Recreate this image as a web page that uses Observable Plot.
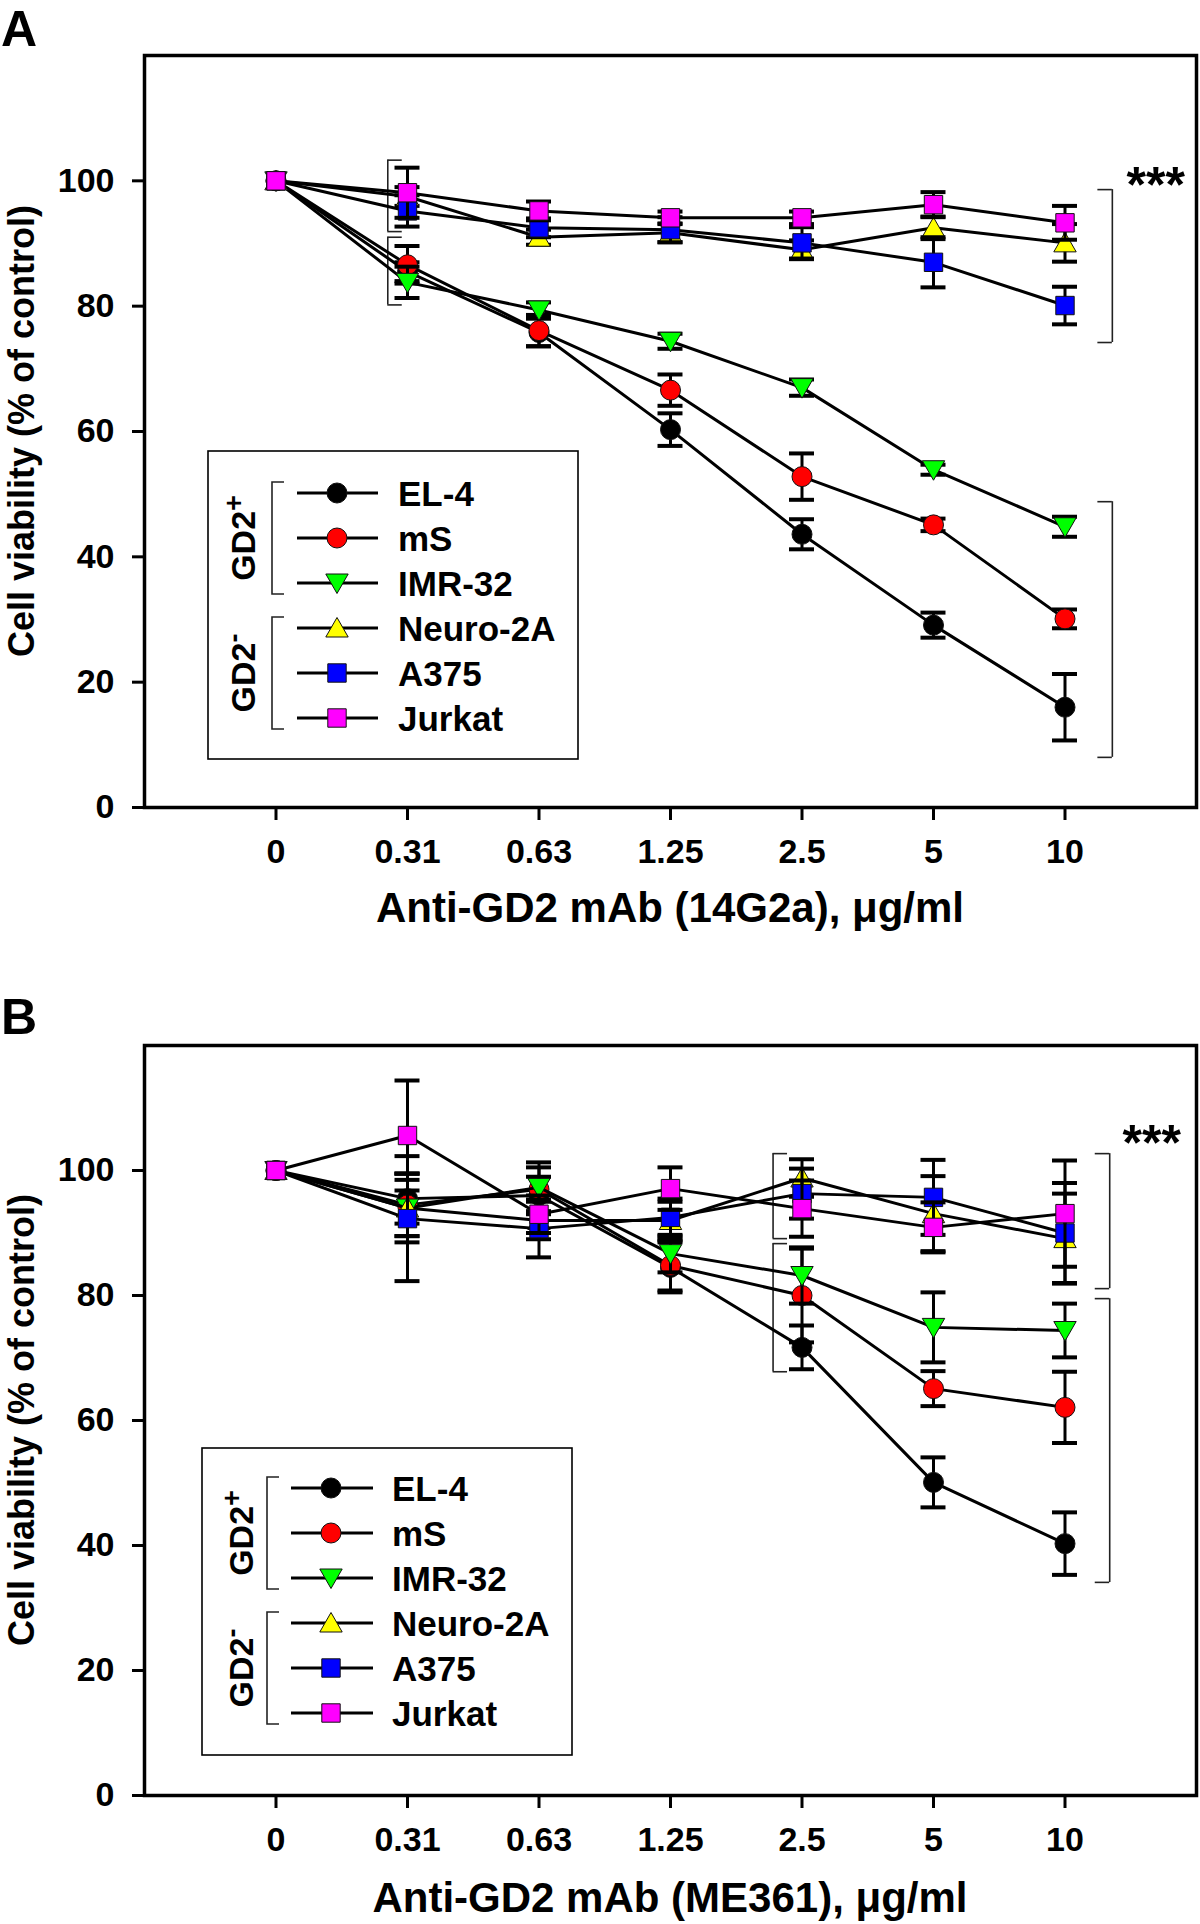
<!DOCTYPE html>
<html><head><meta charset="utf-8">
<script src="https://cdn.jsdelivr.net/npm/d3@7"></script>
<script src="https://cdn.jsdelivr.net/npm/@observablehq/plot@0.6"></script>
<style>
body{margin:0;background:#fff;}
#wrap{position:relative;width:1200px;height:1924px;background:#fff;}
.panel{position:absolute;left:0;width:1200px;}
</style></head><body><div id="wrap"><div id="pa" class="panel" style="top:0"></div><div id="pb" class="panel" style="top:962px"></div></div>
<script>
// ---------- data ----------
const doses = ["0","0.31","0.63","1.25","2.5","5","10"];
const cellLines = ["EL-4","mS","IMR-32","Neuro-2A","A375","Jurkat"];
const colors = ["#000000","#ff0000","#00ff00","#ffff00","#0000ff","#ff00ff"];
const groups = [{label:"GD2", sup:"+", from:0, to:2},{label:"GD2", sup:"-", from:3, to:5}];

// Panel A (14G2a): mean and error, per cell line
const meanA_EL4    = [100, 85.5, 75.8, 60.3, 43.6, 29.1, 16.0];
const errA_EL4     = [0, 1.5, 2.2, 2.6, 2.4, 2.0, 5.3];
const meanA_mS     = [100, 86.6, 76.1, 66.6, 52.8, 45.1, 30.1];
const errA_mS      = [0, 3.0, 2.5, 2.5, 3.7, 1.0, 1.5];
const meanA_IMR32  = [100, 83.8, 79.4, 74.4, 67.0, 53.9, 44.8];
const errA_IMR32   = [0, 2.5, 1.2, 1.2, 1.3, 0.8, 1.6];
const meanA_Neuro  = [100, 97.5, 91.0, 91.7, 89.0, 92.5, 90.1];
const errA_Neuro   = [0, 1.5, 1.2, 1.5, 1.5, 1.8, 3.0];
const meanA_A375   = [100, 95.2, 92.5, 92.2, 90.1, 87.0, 80.1];
const errA_A375    = [0, 2.5, 1.5, 2.0, 2.5, 4.0, 3.0];
const meanA_Jurkat = [100, 98.1, 95.2, 94.1, 94.1, 96.2, 93.3];
const errA_Jurkat  = [0, 4.0, 1.5, 1.0, 1.0, 2.0, 2.7];

// Panel B (ME361)
const meanB_EL4    = [100, 95.5, 96.0, 84.5, 71.7, 50.1, 40.3];
const errB_EL4     = [0, 4.0, 3.0, 4.0, 3.5, 4.0, 5.0];
const meanB_mS     = [100, 94.5, 97.0, 84.8, 80.0, 65.1, 62.1];
const errB_mS      = [0, 5.0, 3.5, 4.0, 7.5, 2.8, 5.7];
const meanB_IMR32  = [100, 94.0, 97.3, 86.7, 83.2, 74.9, 74.4];
const errB_IMR32   = [0, 5.5, 4.0, 3.0, 4.5, 5.6, 4.3];
const meanB_Neuro  = [100, 94.0, 92.0, 92.0, 98.8, 93.1, 89.1];
const errB_Neuro   = [0, 4.5, 3.0, 3.0, 3.0, 6.0, 7.2];
const meanB_A375   = [100, 92.3, 90.7, 92.5, 96.3, 95.7, 90.0];
const errB_A375    = [0, 10.0, 4.6, 3.0, 4.0, 6.0, 8.0];
const meanB_Jurkat = [100, 105.6, 93.0, 97.1, 93.9, 90.9, 93.1];
const errB_Jurkat  = [0, 8.8, 3.0, 3.4, 4.5, 4.0, 8.5];

const yTicks = [0, 20, 40, 60, 80, 100];

// significance brackets: x (dose index position), y range, side the ticks open to
const bracketsA = [
  {x: 0.85, y1: 91.9, y2: 103.3, open: 1},
  {x: 0.85, y1: 80.2, y2: 91.0, open: 1},
  {x: 6.36, y1: 74.2, y2: 98.6, open: -1},
  {x: 6.36, y1: 8.0, y2: 48.8, open: -1}
];
const bracketsB = [
  {x: 3.78, y1: 89.1, y2: 102.7, open: 1},
  {x: 3.78, y1: 67.8, y2: 88.3, open: 1},
  {x: 6.34, y1: 81.1, y2: 102.7, open: -1},
  {x: 6.34, y1: 34.1, y2: 79.5, open: -1}
];
const starsA = [{x: 6.69, y: 99.2, t: "***"}];
const starsB = [{x: 6.66, y: 104.3, t: "***"}];

// ---------- symbols ----------
const symCircle = {draw(c, s){const r=Math.sqrt(s/Math.PI); c.moveTo(r,0); c.arc(0,0,r,0,2*Math.PI);}};
const symSquare = {draw(c, s){const r=Math.sqrt(s/Math.PI)*0.92; c.rect(-r,-r,2*r,2*r);}};
const symTriUp = {draw(c, s){const r=Math.sqrt(s/Math.PI); c.moveTo(0,-1.05*r); c.lineTo(1.12*r,0.9*r); c.lineTo(-1.12*r,0.9*r); c.closePath();}};
const symTriDown = {draw(c, s){const r=Math.sqrt(s/Math.PI); c.moveTo(0,1.05*r); c.lineTo(1.12*r,-0.9*r); c.lineTo(-1.12*r,-0.9*r); c.closePath();}};
const symbols = [symCircle, symCircle, symTriDown, symTriUp, symSquare, symSquare];

const FONT = "'Liberation Sans', Arial, sans-serif";

function makePanel(el, o) {
  const marks = [];
  const capHalf = 0.095;
  // brackets
  marks.push(Plot.ruleX(o.brackets, {x: "x", y1: "y1", y2: "y2", stroke: "#222", strokeWidth: 1.6}));
  marks.push(Plot.ruleY(o.brackets, {y: "y1", x1: "x", x2: d => d.x + d.open * 0.11, stroke: "#222", strokeWidth: 1.6}));
  marks.push(Plot.ruleY(o.brackets, {y: "y2", x1: "x", x2: d => d.x + d.open * 0.11, stroke: "#222", strokeWidth: 1.6}));
  o.series.forEach((s, k) => {
    const pts = doses.map((d, i) => ({x: i, y: s.mean[i], e: s.err[i]}));
    const eb = pts.filter(d => d.e > 0);
    marks.push(Plot.line(pts, {x: "x", y: "y", stroke: "#000", strokeWidth: 3}));
    marks.push(Plot.ruleX(eb, {x: "x", y1: d => d.y - d.e, y2: d => d.y + d.e, stroke: "#000", strokeWidth: 3}));
    marks.push(Plot.ruleY(eb, {y: d => d.y + d.e, x1: d => d.x - capHalf, x2: d => d.x + capHalf, stroke: "#000", strokeWidth: 4}));
    marks.push(Plot.ruleY(eb, {y: d => d.y - d.e, x1: d => d.x - capHalf, x2: d => d.x + capHalf, stroke: "#000", strokeWidth: 4}));
    marks.push(Plot.dot(pts, {x: "x", y: "y", r: 10, symbol: symbols[k], fill: colors[k], stroke: "#111", strokeWidth: 1}));
  });
  marks.push(Plot.text(o.stars, {x: "x", y: "y", text: "t", fontSize: 50, fontWeight: "bold", lineAnchor: "middle"}));
  marks.push(Plot.frame({stroke: "#000", strokeWidth: 3.5}));
  marks.push(Plot.axisY({ticks: yTicks, tickSize: 12, tickPadding: 18, strokeWidth: 3, label: null}));
  marks.push(Plot.axisX({ticks: d3.range(doses.length), tickFormat: i => doses[i], tickSize: 13, tickPadding: 18, strokeWidth: 3, label: null}));

  const chart = Plot.plot({
    width: 1200, height: 962,
    marginLeft: 144, marginRight: 4, marginTop: o.marginTop, marginBottom: o.marginBottom,
    x: {domain: [-1, 7], axis: null},
    y: {domain: [0, 120], axis: null},
    style: {fontFamily: FONT, fontSize: "34px", fontWeight: "bold", color: "#000", background: "#fff"},
    marks
  });
  el.appendChild(chart);
  const svg = d3.select(chart.tagName === "svg" ? chart : chart.querySelector("svg"));
  const xs = chart.scale("x"), ys = chart.scale("y");
  const cx = (xs.apply(-1) + xs.apply(7)) / 2;
  const cy = (ys.apply(0) + ys.apply(120)) / 2;
  // panel letter
  svg.append("text").attr("x", 1).attr("y", o.letterY).attr("text-anchor", "start").attr("font-size", 50).attr("font-weight", "bold").attr("font-family", FONT).text(o.letter);
  // axis titles
  svg.append("text").attr("x", cx).attr("y", o.xTitleY).attr("text-anchor", "middle").attr("font-size", 42).attr("font-weight", "bold").attr("font-family", FONT).text(o.xTitle);
  svg.append("text").attr("transform", `translate(21,${cy}) rotate(-90)`).attr("dy", "0.36em").attr("text-anchor", "middle").attr("font-size", 36).attr("font-weight", "bold").attr("font-family", FONT).text("Cell viability (% of control)");
  // legend
  const L = o.legend;
  const g = svg.append("g").attr("font-family", FONT).attr("font-weight", "bold");
  g.append("rect").attr("x", L.x).attr("y", L.y).attr("width", L.w).attr("height", L.h).attr("fill", "#fff").attr("stroke", "#000").attr("stroke-width", 1.6);
  cellLines.forEach((name, k) => {
    const ry = L.row0 + k * L.step;
    g.append("line").attr("x1", L.lx1).attr("x2", L.lx2).attr("y1", ry).attr("y2", ry).attr("stroke", "#000").attr("stroke-width", 3);
    g.append("path").attr("d", d3.symbol(symbols[k], Math.PI * 100)()).attr("transform", `translate(${L.sx},${ry})`).attr("fill", colors[k]).attr("stroke", "#111").attr("stroke-width", 1);
    g.append("text").attr("x", L.tx).attr("y", ry).attr("dy", "0.36em").attr("text-anchor", "start").attr("font-size", 35).text(name);
  });
  groups.forEach(gr => {
    const y1 = L.row0 + gr.from * L.step - 11, y2 = L.row0 + gr.to * L.step + 11;
    g.append("path").attr("d", `M${L.bx + 12},${y1}H${L.bx}V${y2}H${L.bx + 12}`).attr("fill", "none").attr("stroke", "#222").attr("stroke-width", 1.6);
    const t = g.append("text").attr("transform", `translate(${L.gx},${(y1 + y2) / 2}) rotate(-90)`).attr("dy", "0.36em").attr("text-anchor", "middle").attr("font-size", 34);
    t.append("tspan").text(gr.label);
    t.append("tspan").attr("dy", "-0.45em").attr("font-size", 27).text(gr.sup);
  });
}

makePanel(document.getElementById("pa"), {
  series: [
    {mean: meanA_EL4, err: errA_EL4}, {mean: meanA_mS, err: errA_mS}, {mean: meanA_IMR32, err: errA_IMR32},
    {mean: meanA_Neuro, err: errA_Neuro}, {mean: meanA_A375, err: errA_A375}, {mean: meanA_Jurkat, err: errA_Jurkat}
  ],
  brackets: bracketsA, stars: starsA,
  marginTop: 55, marginBottom: 155,
  letter: "A", letterY: 46,
  xTitle: "Anti-GD2 mAb (14G2a), μg/ml", xTitleY: 922,
  legend: {x: 208, y: 451, w: 370, h: 308, row0: 493, step: 45, lx1: 297, lx2: 378, sx: 337, tx: 398, bx: 272, gx: 243}
});
makePanel(document.getElementById("pb"), {
  series: [
    {mean: meanB_EL4, err: errB_EL4}, {mean: meanB_mS, err: errB_mS}, {mean: meanB_IMR32, err: errB_IMR32},
    {mean: meanB_Neuro, err: errB_Neuro}, {mean: meanB_A375, err: errB_A375}, {mean: meanB_Jurkat, err: errB_Jurkat}
  ],
  brackets: bracketsB, stars: starsB,
  marginTop: 83, marginBottom: 129,
  letter: "B", letterY: 72,
  xTitle: "Anti-GD2 mAb (ME361), μg/ml", xTitleY: 950,
  legend: {x: 202, y: 486, w: 370, h: 307, row0: 526, step: 45, lx1: 291, lx2: 373, sx: 331, tx: 392, bx: 267, gx: 241}
});
</script></body></html>
